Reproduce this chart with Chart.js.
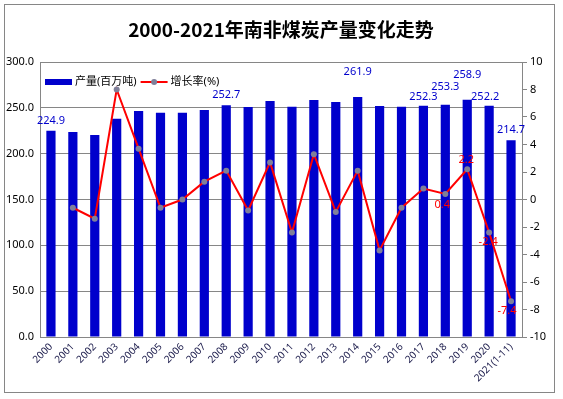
<!DOCTYPE html>
<html>
<head>
<meta charset="utf-8">
<script src="https://cdn.jsdelivr.net/npm/chart.js@4"></script>
<style>
  html, body { margin: 0; padding: 0; background: #fff; }
  #wrap { width: 563px; height: 399px; }
</style>
</head>
<body>
<div id="wrap"><canvas id="grafico" width="563" height="399"></canvas></div>
<script>
// datos
const anios = ["2000","2001","2002","2003","2004","2005","2006","2007","2008","2009","2010",
  "2011","2012","2013","2014","2015","2016","2017","2018","2019","2020","2021(1-11)"];
const produccion = [224.9, 223.6, 220.4, 238.2, 246.5, 244.7, 244.7, 247.6, 252.7, 250.9, 257.5,
  251.2, 258.5, 256.4, 261.9, 252.0, 251.2, 252.3, 253.3, 258.9, 252.2, 214.7];
const crecimiento = [null, -0.6, -1.4, 8.0, 3.7, -0.6, 0.0, 1.3, 2.1, -0.8, 2.7,
  -2.4, 3.3, -0.9, 2.1, -3.7, -0.6, 0.8, 0.4, 2.2, -2.4, -7.4];
const ticksIzq = [0, 50, 100, 150, 200, 250, 300];
const ticksDer = [-10, -8, -6, -4, -2, 0, 2, 4, 6, 8, 10];

// etiquetas visibles (indice -> desplazamiento en px)
const etiqBarras = { 0: [0, -10], 8: [0, -10], 14: [0, -25], 17: [0, -9], 18: [0, -18], 19: [0, -25], 20: [-4, -9], 21: [0, -10] };
const etiqLinea = { 18: [-3, 11], 19: [-1, -9], 20: [-1, 9], 21: [-4, 10] };

const azul = "#0000CC";
const rojo = "#FF0000";
const gris = "#868686";
const puntoColor = "#7f7f99";
const fuente = "'Noto Sans', 'Noto Sans CJK SC', sans-serif";

// marco, titulo, leyenda y etiquetas de datos
const extras = {
  id: "extras",
  beforeDraw(chart) {
    const ctx = chart.ctx;
    ctx.save();
    ctx.fillStyle = "#fff";
    ctx.fillRect(0, 0, chart.width, chart.height);
    ctx.strokeStyle = gris;
    ctx.lineWidth = 1;
    ctx.strokeRect(4.5, 4.5, 550, 388);
    ctx.restore();
  },
  afterDatasetsDraw(chart) {
    const ctx = chart.ctx;
    ctx.save();
    ctx.font = "11px " + fuente;
    ctx.textAlign = "center";
    ctx.textBaseline = "middle";
    const barras = chart.getDatasetMeta(0).data;
    ctx.fillStyle = azul;
    Object.keys(etiqBarras).forEach((i) => {
      const b = barras[i];
      const d = etiqBarras[i];
      ctx.fillText(produccion[i].toFixed(1), b.x + d[0], b.y + d[1]);
    });
    const puntos = chart.getDatasetMeta(1).data;
    ctx.fillStyle = rojo;
    Object.keys(etiqLinea).forEach((i) => {
      const p = puntos[i];
      const d = etiqLinea[i];
      ctx.fillText(crecimiento[i].toFixed(1), p.x + d[0], p.y + d[1]);
    });
    ctx.restore();
  },
  afterDraw(chart) {
    const ctx = chart.ctx;
    const area = chart.chartArea;
    ctx.save();
    ctx.font = "bold 19px 'Noto Sans CJK SC', 'Noto Sans', sans-serif";
    ctx.fillStyle = "#000";
    ctx.textAlign = "center";
    ctx.textBaseline = "middle";
    ctx.fillText("2000-2021年南非煤炭产量变化走势", 281, 30);

    // leyenda dentro del area
    const ds = chart.data.datasets;
    let x = area.left + 5;
    const y = area.top + 20;
    ctx.font = "11px " + fuente;
    ctx.textAlign = "left";
    ctx.fillStyle = azul;
    ctx.fillRect(x, y - 3, 27, 6);
    x += 30;
    ctx.fillStyle = "#000";
    ctx.fillText(ds[0].label, x, y);
    x += ctx.measureText(ds[0].label).width + 4;
    ctx.strokeStyle = rojo;
    ctx.lineWidth = 2;
    ctx.beginPath(); ctx.moveTo(x, y); ctx.lineTo(x + 27, y); ctx.stroke();
    ctx.fillStyle = puntoColor;
    ctx.beginPath(); ctx.arc(x + 13.5, y, 3, 0, Math.PI * 2); ctx.fill();
    x += 30;
    ctx.fillStyle = "#000";
    ctx.fillText(ds[1].label, x, y);
    ctx.restore();
  }
};

const config = {
  data: {
    labels: anios,
    datasets: [
      {
        type: "bar",
        label: "产量(百万吨)",
        data: produccion,
        backgroundColor: azul,
        barPercentage: 0.42,
        categoryPercentage: 1,
        yAxisID: "y",
        order: 2
      },
      {
        type: "line",
        label: "增长率(%)",
        data: crecimiento,
        borderColor: rojo,
        borderWidth: 2,
        pointRadius: 3,
        pointBackgroundColor: puntoColor,
        pointBorderColor: puntoColor,
        pointBorderWidth: 0,
        yAxisID: "y1",
        order: 1
      }
    ]
  },
  plugins: [extras],
  options: {
    responsive: false,
    animation: false,
    layout: { padding: { top: 62, left: 5, right: 6, bottom: 0 } },
    plugins: {
      title: { display: false },
      tooltip: { enabled: false },
      legend: { display: false }
    },
    scales: {
      x: {
        grid: { display: false, drawTicks: false },
        border: { display: true, color: gris },
        ticks: {
          color: "#1c1c4c",
          font: { size: 10, family: fuente },
          maxRotation: 45,
          minRotation: 45,
          autoSkip: false,
          padding: 4
        },
        afterFit: (s) => { s.height = 62; }
      },
      y: {
        position: "left",
        min: 0,
        max: 300,
        afterBuildTicks: (s) => { s.ticks = ticksIzq.map((v) => ({ value: v })); },
        grid: { color: gris, drawTicks: false },
        border: { color: gris },
        ticks: {
          color: "#000",
          padding: 6,
          font: { size: 11, family: fuente },
          callback: (v) => Number(v).toFixed(1)
        },
        afterFit: (s) => { s.width = 35; }
      },
      y1: {
        position: "right",
        min: -10,
        max: 10,
        afterBuildTicks: (s) => { s.ticks = ticksDer.map((v) => ({ value: v })); },
        grid: { drawOnChartArea: false, color: gris, tickLength: 5 },
        border: { color: gris },
        ticks: {
          color: "#000",
          padding: 3,
          font: { size: 11, family: fuente }
        },
        afterFit: (s) => { s.width = 35; }
      }
    }
  }
};

window.grafico = new Chart(document.getElementById("grafico").getContext("2d"), config);
</script>
</body>
</html>
